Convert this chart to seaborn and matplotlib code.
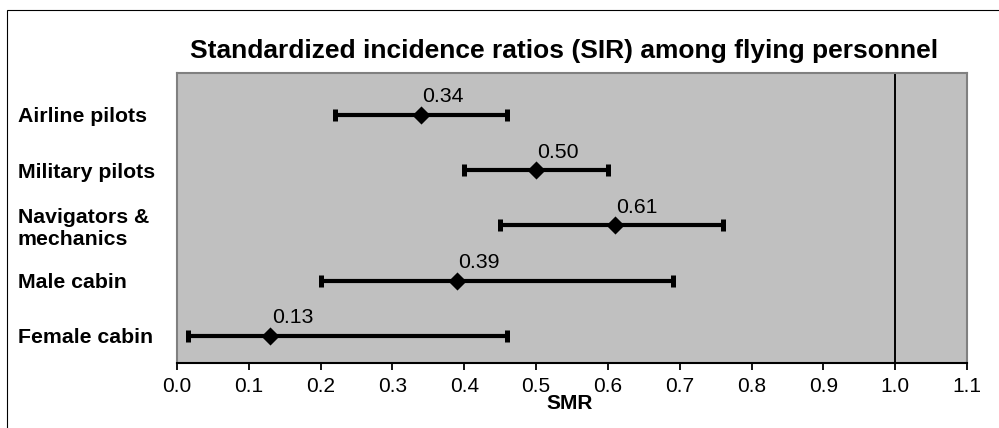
import matplotlib
matplotlib.use("Agg")
import matplotlib.pyplot as plt
from matplotlib.patches import Rectangle
import pandas as pd
import seaborn as sns

# Standardized incidence ratios with 95% confidence limits
groups = ["Airline pilots", "Military pilots", "Navigators &\nmechanics",
          "Male cabin", "Female cabin"]
sir = [0.34, 0.50, 0.61, 0.39, 0.13]
ci_low = [0.22, 0.40, 0.45, 0.20, 0.015]
ci_high = [0.46, 0.60, 0.76, 0.69, 0.46]
x_ticks = [0.0, 0.1, 0.2, 0.3, 0.4, 0.5, 0.6, 0.7, 0.8, 0.9, 1.0, 1.1]
x_tick_labels = ["0.0", "0.1", "0.2", "0.3", "0.4", "0.5", "0.6", "0.7",
                 "0.8", "0.9", "1.0", "1.1"]

sns.set_theme(style="white")
plt.rcParams["font.family"] = ["Liberation Sans", "DejaVu Sans"]
plt.rcParams["text.color"] = "black"
plt.rcParams["xtick.labelcolor"] = "black"
plt.rcParams["ytick.labelcolor"] = "black"
plt.rcParams["axes.labelcolor"] = "black"

df = pd.DataFrame({"group": groups, "sir": sir, "lo": ci_low, "hi": ci_high})
df["row"] = range(len(df))

fig = plt.figure(figsize=(9.99, 4.28), dpi=100)
fig.patch.set_facecolor("white")

# thin outer frame (top and left edges visible)
fig.add_artist(Rectangle((7 / 999, -0.1), 2.0, 1 - 10 / 428 + 0.1,
                         transform=fig.transFigure, fill=False,
                         edgecolor="black", linewidth=0.8))

ax = fig.add_axes([177 / 999, 1 - 363 / 428, 790 / 999, 290 / 428])
ax.set_facecolor("#C0C0C0")

# confidence interval whiskers
ax.errorbar(df["sir"], df["row"],
            xerr=[df["sir"] - df["lo"], df["hi"] - df["sir"]],
            fmt="none", ecolor="black", elinewidth=3.0,
            capsize=4, capthick=3.6, zorder=2)

# point estimates
sns.scatterplot(data=df, x="sir", y="row", marker="D", s=85,
                color="black", edgecolor="black", linewidth=0,
                ax=ax, zorder=3, legend=False)

for _, r in df.iterrows():
    ax.annotate(f"{r['sir']:.2f}", (r["sir"], r["row"]),
                xytext=(1, 9), textcoords="offset points",
                ha="left", va="baseline", fontsize=15.3, color="black")

# reference line at SIR = 1
ax.axvline(1.0, color="black", linewidth=1.4, zorder=1)

ax.set_xlim(0, 1.1)
ax.set_ylim(4.49, -0.76)
ax.set_xticks(x_ticks, x_tick_labels, fontsize=15)
ax.set_yticks(df["row"], df["group"], fontsize=15.3, fontweight="bold")
for lbl in ax.get_yticklabels():
    lbl.set_horizontalalignment("left")
ax.tick_params(axis="y", length=0, pad=114.5)
ax.tick_params(axis="x", direction="out", length=5, width=1.3,
               color="black", pad=5, bottom=True)

for side in ["left", "top", "right"]:
    ax.spines[side].set_color("#808080")
    ax.spines[side].set_linewidth(1.5)
ax.spines["bottom"].set_color("black")
ax.spines["bottom"].set_linewidth(1.5)

ax.set_xlabel("SMR", fontsize=15, fontweight="bold")
ax.xaxis.set_label_coords(0.4975, -0.108)
ax.set_ylabel("")

fig.text(564 / 999, 1 - 58 / 428,
         "Standardized incidence ratios (SIR) among flying personnel",
         ha="center", va="baseline", fontsize=19, fontweight="bold")

fig.savefig("out.png", dpi=100)
